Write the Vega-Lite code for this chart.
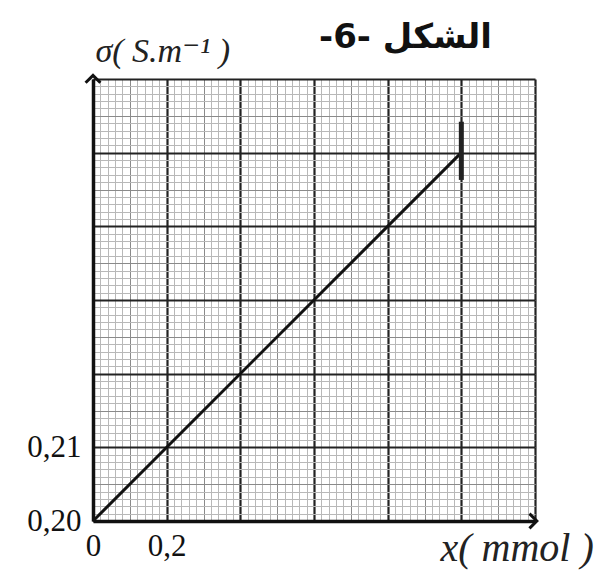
{
  "$schema": "https://vega.github.io/schema/vega-lite/v6.json",
  "width": 442,
  "height": 442,
  "autosize": "none",
  "padding": {"left": 93, "top": 79, "right": 77, "bottom": 54},
  "background": "white",
  "config": {
    "view": {"stroke": null},
    "axis": {"labelFont": "Liberation Serif", "titleFont": "Liberation Serif"}
  },
  "datasets": {
    "curve": [{"x": 0, "sigma": 0.2}, {"x": 1.0, "sigma": 0.25}],
    "errbar": [{"x": 1.0, "lo": 0.2463, "hi": 0.2542}],
    "arrowUp": [{"x": 0, "sigma": 0.2605}],
    "arrowRight": [{"x": 1.205, "sigma": 0.2}]
  },
  "resolve": {"axis": {"x": "independent", "y": "independent"}},
  "layer": [
    {
      "data": {"name": "curve"},
      "mark": {"type": "line", "opacity": 0},
      "encoding": {
        "x": {"field": "x", "type": "quantitative", "scale": {"domain": [0, 1.2], "nice": false, "zero": false},
          "axis": {"orient": "bottom", "values": [0,0.02,0.04,0.06,0.08,0.1,0.12,0.14,0.16,0.18,0.2,0.22,0.24,0.26,0.28,0.3,0.32,0.34,0.36,0.38,0.4,0.42,0.44,0.46,0.48,0.5,0.52,0.54,0.56,0.58,0.6,0.62,0.64,0.66,0.68,0.7,0.72,0.74,0.76,0.78,0.8,0.82,0.84,0.86,0.88,0.9,0.92,0.94,0.96,0.98,1.0,1.02,1.04,1.06,1.08,1.1,1.12,1.14,1.16,1.18,1.2],
            "grid": true, "gridColor": "#b8b8b8", "gridWidth": 1, "labels": false, "ticks": false, "domain": false, "title": null}},
        "y": {"field": "sigma", "type": "quantitative", "scale": {"domain": [0.2, 0.26], "nice": false, "zero": false},
          "axis": {"orient": "left", "values": [0.2,0.201,0.202,0.203,0.204,0.205,0.206,0.207,0.208,0.209,0.21,0.211,0.212,0.213,0.214,0.215,0.216,0.217,0.218,0.219,0.22,0.221,0.222,0.223,0.224,0.225,0.226,0.227,0.228,0.229,0.23,0.231,0.232,0.233,0.234,0.235,0.236,0.237,0.238,0.239,0.24,0.241,0.242,0.243,0.244,0.245,0.246,0.247,0.248,0.249,0.25,0.251,0.252,0.253,0.254,0.255,0.256,0.257,0.258,0.259,0.26],
            "grid": true, "gridColor": "#b8b8b8", "gridWidth": 1, "labels": false, "ticks": false, "domain": false, "title": null}}
      }
    },
    {
      "data": {"name": "curve"},
      "mark": {"type": "line", "opacity": 0},
      "encoding": {
        "x": {"field": "x", "type": "quantitative",
          "axis": {"orient": "top", "values": [0,0.1,0.2,0.3,0.4,0.5,0.6,0.7,0.8,0.9,1.0,1.1,1.2],
            "grid": true, "gridColor": "#8a8a8a", "gridWidth": 1, "labels": false, "ticks": false, "domain": false,
            "title": "-6- الشكل", "titleFont": "DejaVu Sans", "titleFontWeight": "bold", "titleFontSize": 34, "titleColor": "#111",
            "titleAlign": "center", "titleBaseline": "middle", "titleX": 312, "titleY": -42}},
        "y": {"field": "sigma", "type": "quantitative",
          "axis": {"orient": "left", "values": [0.205,0.215,0.225,0.235,0.245,0.255],
            "grid": true, "gridColor": "#8a8a8a", "gridWidth": 1, "labels": false, "ticks": false, "domain": false, "title": null}}
      }
    },
    {
      "data": {"name": "curve"},
      "mark": {"type": "line", "color": "#111", "strokeWidth": 3},
      "encoding": {
        "x": {"field": "x", "type": "quantitative",
          "axis": {"orient": "bottom", "values": [0,0.2,0.4,0.6,0.8,1.0,1.2],
            "grid": true, "gridColor": "#222", "gridWidth": 2.2, "gridOpacity": 1,
            "ticks": false, "domain": true, "domainColor": "#111", "domainWidth": 3.5,
            "labelExpr": "datum.value == 0 ? '0' : (abs(datum.value - 0.2) < 0.001 ? '0,2' : '')",
            "labelFont": "Liberation Serif", "labelFontSize": 31, "labelColor": "#111", "labelPadding": 10, "labelFlush": false, "labelOverlap": false,
            "title": "x( mmol )", "titleFont": "Liberation Serif", "titleFontSize": 40, "titleFontStyle": "italic", "titleFontWeight": "normal", "titleColor": "#222",
            "titleAlign": "left", "titleBaseline": "middle", "titleX": 347, "titleY": 27}},
        "y": {"field": "sigma", "type": "quantitative",
          "axis": {"orient": "left", "values": [0.2,0.21,0.22,0.23,0.24,0.25,0.26],
            "grid": true, "gridColor": "#222", "gridWidth": 2.2, "gridOpacity": 1,
            "ticks": false, "domain": true, "domainColor": "#111", "domainWidth": 3.5,
            "labelExpr": "abs(datum.value - 0.2) < 0.0001 ? '0,20' : (abs(datum.value - 0.21) < 0.0001 ? '0,21' : '')",
            "labelFont": "Liberation Serif", "labelFontSize": 31, "labelColor": "#111", "labelPadding": 12, "labelFlush": false, "labelOverlap": false,
            "title": "σ( S.m⁻¹ )", "titleFont": "Liberation Serif, DejaVu Serif", "titleFontSize": 34, "titleFontStyle": "italic", "titleFontWeight": "normal", "titleColor": "#222",
            "titleAngle": 0, "titleAlign": "left", "titleBaseline": "middle", "titleX": 2, "titleY": -28}}
      }
    },
    {
      "data": {"name": "errbar"},
      "mark": {"type": "rule", "color": "#222", "strokeWidth": 5},
      "encoding": {
        "x": {"field": "x", "type": "quantitative", "axis": null},
        "y": {"field": "lo", "type": "quantitative", "axis": null},
        "y2": {"field": "hi"}
      }
    },
    {
      "data": {"name": "arrowUp"},
      "mark": {"type": "point", "shape": "M-1,1L0,0L1,1", "filled": false, "stroke": "#111", "strokeWidth": 3, "size": 220, "opacity": 1, "clip": false},
      "encoding": {
        "x": {"field": "x", "type": "quantitative", "axis": null},
        "y": {"field": "sigma", "type": "quantitative", "axis": null}
      }
    },
    {
      "data": {"name": "arrowRight"},
      "mark": {"type": "point", "shape": "M-1,1L0,0L1,1", "angle": 90, "filled": false, "stroke": "#111", "strokeWidth": 3, "size": 220, "opacity": 1, "clip": false},
      "encoding": {
        "x": {"field": "x", "type": "quantitative", "axis": null},
        "y": {"field": "sigma", "type": "quantitative", "axis": null}
      }
    }
  ]
}
